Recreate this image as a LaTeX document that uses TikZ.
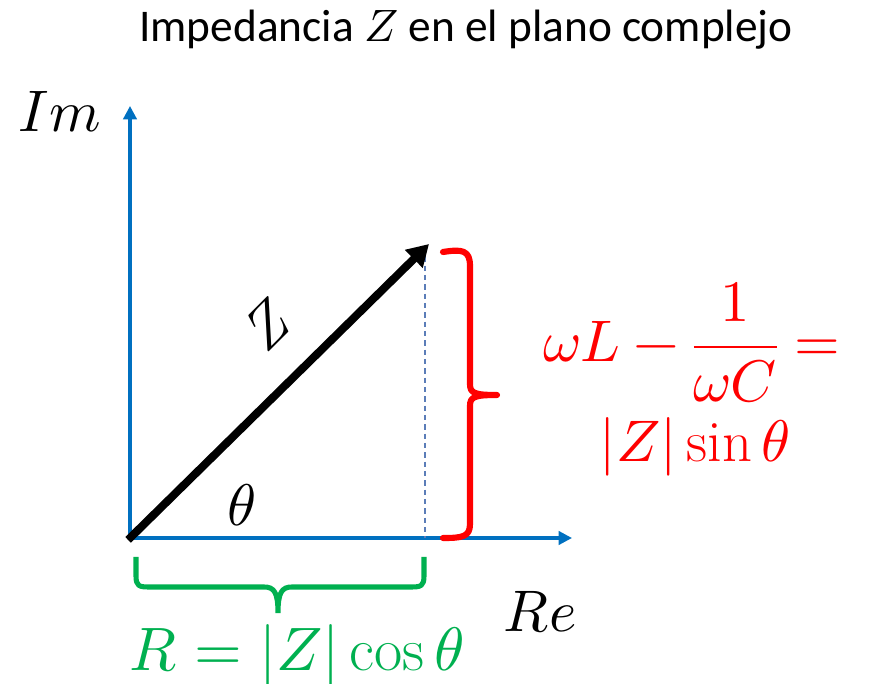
\documentclass[tikz,border=0pt]{standalone}
\usepackage{amsmath}
\usepackage{fontspec}
\usepackage{unicode-math}
\setmainfont{Latin Modern Roman}
\setmathfont{Latin Modern Math}
\newfontfamily\titlefont{Carlito}
\usetikzlibrary{arrows.meta}
\definecolor{axblue}{HTML}{0070C0}
\definecolor{dashblue}{HTML}{5B7DB8}
\definecolor{bred}{HTML}{FF0000}
\definecolor{bgreen}{HTML}{00B050}
\begin{document}
\begin{tikzpicture}[x=0.75pt,y=-0.75pt,
  axis/.style={draw=axblue,line width=2.3pt,-{Triangle[length=10pt,width=10pt]}},
  vec/.style={draw=black,line width=6pt,-{Triangle[length=16pt,width=18pt]}},
  guide/.style={draw=dashblue,line width=0.8pt,dash pattern=on 4pt off 3pt},
  redbrace/.style={draw=bred,line width=4.6pt,line cap=round,line join=round},
  greenbrace/.style={draw=bgreen,line width=3.8pt,line join=round},
  mathlbl/.style={inner sep=0pt,font=\fontsize{44}{50}\selectfont},
  titlelbl/.style={inner sep=0pt,font=\titlefont\fontsize{34}{40}\selectfont}]
\useasboundingbox (0,0) rectangle (869,684);
% coordinates
\coordinate (O) at (130,538);
\coordinate (ytip) at (130,106);
\coordinate (xtip) at (572,538);
\coordinate (T) at (429,244);
\coordinate (F) at (425,538);
\coordinate (Ftop) at (425,247);
% title
\node[titlelbl] (title) at (466,30) {Impedancia $Z$ en el plano complejo};
% axes
\draw[axis] (O) -- (ytip);
\draw[axis] (O) -- (xtip);
% dashed projection
\draw[guide] (Ftop) -- (F);
% vector
\draw[vec,shorten <=-2pt] (O) -- (T);
% red brace
\draw[redbrace] (443,252) .. controls (462,249) and (470,250) .. (470,266) -- (470,384)
  .. controls (470,393) and (474,395) .. (497,395)
  (497,395) .. controls (474,395) and (470,397) .. (470,406) -- (470,524)
  .. controls (470,537) and (462,538) .. (443,538);
% green brace
\draw[greenbrace] (136,557) -- (136,576) .. controls (136,586) and (139,587) .. (149,587) -- (264,587)
  .. controls (274,587) and (278,592) .. (278,613)
  (278,613) .. controls (278,592) and (282,587) .. (292,587) -- (411,587)
  .. controls (421,587) and (424,586) .. (424,576) -- (424,557);
% labels
\node[mathlbl] (im) at (60,112) {$Im$};
\node[mathlbl] (re) at (540,612) {$Re$};
\node[mathlbl] (theta) at (242,505) {$\theta$};
\node[mathlbl,rotate=45] (zl) at (268,325) {$Z$};
\node[mathlbl,text=bred] (wl) at (692,343) {$\omega L-\dfrac{1}{\omega C}=$};
\node[mathlbl,text=bred] (zs) at (695,447) {$|Z|\sin\theta$};
\node[mathlbl,text=bgreen,font=\fontsize{46}{52}\selectfont] (rz) at (297,655) {$R=|Z|\cos\theta$};
\end{tikzpicture}
\end{document}
